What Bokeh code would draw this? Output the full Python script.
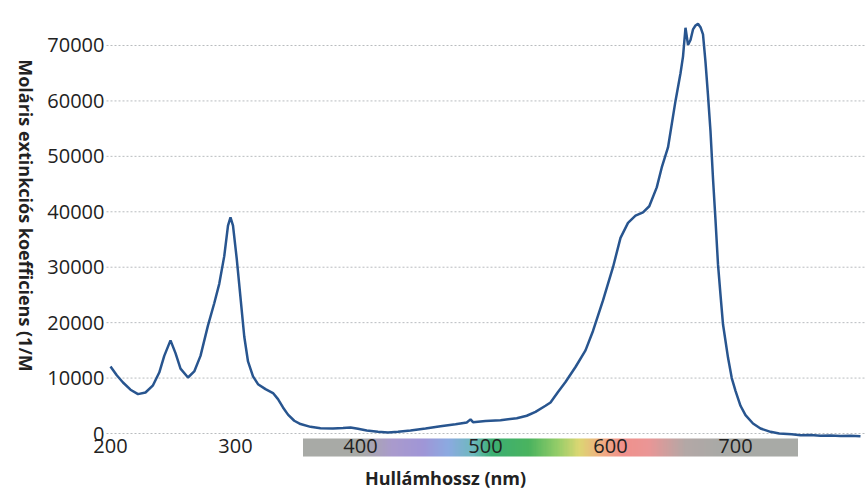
import math
import numpy as np
from bokeh.plotting import figure
from bokeh.models import Range1d, FixedTicker, Label, ColumnDataSource
from bokeh.embed import file_html
from bokeh.resources import INLINE

# ---- data (wavelength in nm, molar extinction coefficient) ----
wavelength = [200, 205, 210, 216, 222, 228, 234, 239, 243, 248, 252, 256, 262, 267, 272,
              278, 283, 287, 291, 294, 296, 298, 301, 304, 307, 310, 314, 318, 324, 330,
              334, 338, 342, 347, 352, 360, 368, 378, 386, 392, 398, 405, 414, 422, 430,
              440, 452, 464, 476, 485, 488, 490, 500, 512, 525, 533, 540, 548, 552, 558,
              564, 572, 580, 586, 594, 602, 608, 614, 620, 626, 631, 637, 641, 646, 652,
              656, 658, 660, 662, 664, 666, 668, 670, 672, 674, 676, 678, 680, 682, 684,
              686, 688, 690, 694, 697, 700, 704, 708, 714, 720, 728, 735, 745, 752, 760,
              768, 776, 784, 792, 800]
extinction = [12100, 10500, 9200, 7900, 7100, 7400, 8700, 11000, 14000, 16800, 14500, 11700, 10100, 11200, 14000,
              19500, 23500, 27000, 32000, 37500, 39000, 37500, 31500, 24500, 17500, 13000, 10300, 8900, 8000, 7300,
              6200, 4700, 3400, 2300, 1700, 1200, 950, 900, 1000, 1100, 850, 550, 300, 200, 300,
              550, 900, 1300, 1650, 2000, 2550, 2050, 2250, 2400, 2750, 3200, 3900, 5000, 5600, 7500,
              9300, 12000, 15000, 18500, 24000, 30000, 35300, 38000, 39300, 39900, 41000, 44400, 48000, 51600, 60000,
              65000, 68000, 73200, 70100, 71000, 72900, 73600, 73900, 73300, 72000, 67000, 61000, 54500, 46000, 38500,
              30500, 25000, 19700, 13700, 10000, 7700, 5000, 3300, 1800, 900, 300, 0, -150, -300, -250,
              -400, -350, -450, -400, -500]

x_ticks = [200, 300, 400, 500, 600, 700]
y_ticks = [0, 10000, 20000, 30000, 40000, 50000, 60000, 70000]

x_title = "Hullámhossz (nm)"
y_title = "Moláris extinkciós koefficiens (1/M"

# colour stops of the visible-spectrum strip under the axis
bar_nm = [354, 400, 425, 450, 470, 490, 505, 535, 558, 575, 592, 610, 630, 660, 690, 750]
bar_r = [168, 168, 170, 160, 140, 110, 60, 75, 150, 220, 240, 240, 235, 180, 168, 168]
bar_g = [170, 170, 155, 150, 170, 185, 175, 180, 205, 215, 175, 145, 150, 168, 170, 170]
bar_b = [166, 166, 205, 215, 225, 190, 115, 95, 105, 115, 130, 140, 150, 166, 166, 166]
bar_y0, bar_y1 = -4150, -900

FONT = "Open Sans"
X_LEFT, X_RIGHT = 196.8, 804.8      # extent of the plotting area (gridlines)

p = figure(width=866, height=490, output_backend="svg", toolbar_location=None,
           x_range=Range1d(112.0, 804.8), y_range=Range1d(-10283, 78117),
           min_border_left=0, min_border_right=0, min_border_top=0, min_border_bottom=0,
           background_fill_color="white", border_fill_color="white")
p.outline_line_color = None

# horizontal dotted gridlines over the plotting area only
p.xgrid.grid_line_color = None
p.ygrid.grid_line_color = None
p.segment(x0=[X_LEFT] * len(y_ticks), x1=[X_RIGHT] * len(y_ticks), y0=y_ticks, y1=y_ticks,
          line_color="#b9bcbf", line_dash="2 2", line_width=1)

# spectrum strip
N = 400
cols = np.linspace(bar_nm[0], bar_nm[-1], N)
img = np.empty((1, N), dtype=np.uint32)
view = img.view(dtype=np.uint8).reshape((1, N, 4))
view[0, :, 0] = np.interp(cols, bar_nm, bar_r).astype(np.uint8)
view[0, :, 1] = np.interp(cols, bar_nm, bar_g).astype(np.uint8)
view[0, :, 2] = np.interp(cols, bar_nm, bar_b).astype(np.uint8)
view[0, :, 3] = 255
p.image_rgba(image=[img], x=bar_nm[0], y=bar_y0, dw=bar_nm[-1] - bar_nm[0], dh=bar_y1 - bar_y0)

# spectrum line
src = ColumnDataSource(dict(x=wavelength, y=extinction))
p.line("x", "y", source=src, line_color="#28558f", line_width=2.5)

# axes drawn at fixed positions inside the canvas
p.xaxis.ticker = FixedTicker(ticks=x_ticks)
p.yaxis.ticker = FixedTicker(ticks=y_ticks)
p.xaxis.fixed_location = -1080
p.yaxis.fixed_location = X_LEFT
for ax in (p.xaxis[0], p.yaxis[0]):
    ax.axis_line_color = None
    ax.major_tick_line_color = None
    ax.minor_tick_line_color = None
    ax.major_tick_out = 0
    ax.major_tick_in = 0
    ax.major_label_text_font = FONT
    ax.major_label_text_font_size = "20px"
    ax.major_label_text_color = "#222222"
p.yaxis.major_label_standoff = 2
p.xaxis.major_label_standoff = 0

# axis titles
p.add_layout(Label(x=468, y=-7950, text=x_title, text_font=FONT, text_font_size="18px",
                   text_font_style="bold", text_color="#222222",
                   text_align="center", text_baseline="middle"))
p.add_layout(Label(x=132, y=39330, text=y_title, text_font=FONT, text_font_size="18px",
                   text_font_style="bold", text_color="#222222", angle=-math.pi / 2,
                   text_align="center", text_baseline="middle"))

open("out.html", "w").write(file_html(p, INLINE))
